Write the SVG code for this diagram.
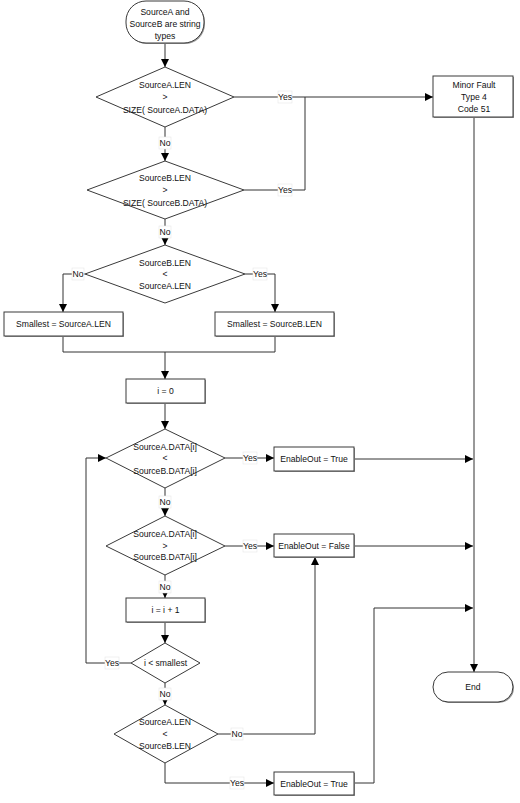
<svg xmlns="http://www.w3.org/2000/svg" width="520" height="803" viewBox="0 0 520 803">
<style>
.shape{fill:#ffffff;stroke:#3a3a3a;stroke-width:1}
.shadow{fill:#9a9a9a;stroke:none}
.t{font-family:"Liberation Sans",Arial,sans-serif;font-size:8.6px;fill:#111111;text-anchor:middle;dominant-baseline:central}
.c{fill:none;stroke:#333333;stroke-width:1}
.lb{fill:#ffffff;stroke:#e6e6e6;stroke-width:0.6}
</style>
<defs>
<marker id="ah" viewBox="0 0 10 10" refX="10" refY="5" markerWidth="8" markerHeight="8" markerUnits="userSpaceOnUse" orient="auto">
<path d="M0,0 L10,5 L0,10 Z" fill="#000000"/>
</marker>
</defs>
<rect width="520" height="803" fill="#ffffff"/>

<g id="connectors">
<path class="c" d="M165,43 V67" marker-end="url(#ah)"/>
<path class="c" d="M234,97 H433" marker-end="url(#ah)"/>
<path class="c" d="M165,127 V161" marker-end="url(#ah)"/>
<path class="c" d="M244,190 H305 V97"/>
<path class="c" d="M165,219 V245" marker-end="url(#ah)"/>
<path class="c" d="M85,274 H63 V312" marker-end="url(#ah)"/>
<path class="c" d="M245,274 H275 V312" marker-end="url(#ah)"/>
<path class="c" d="M63,336 V352 H275 V336"/>
<path class="c" d="M165,352 V379" marker-end="url(#ah)"/>
<path class="c" d="M165,403 V429" marker-end="url(#ah)"/>
<path class="c" d="M225,458 H274" marker-end="url(#ah)"/>
<path class="c" d="M165,488 V516" marker-end="url(#ah)"/>
<path class="c" d="M225,546 H274" marker-end="url(#ah)"/>
<path class="c" d="M165,575 V598" marker-end="url(#ah)"/>
<path class="c" d="M165,622 V643" marker-end="url(#ah)"/>
<path class="c" d="M131,663 H86 V458 H106" marker-end="url(#ah)"/>
<path class="c" d="M165,683 V705" marker-end="url(#ah)"/>
<path class="c" d="M218,734 H315 V557" marker-end="url(#ah)"/>
<path class="c" d="M165,763 V783 H274" marker-end="url(#ah)"/>
<path class="c" d="M354,459 H473" marker-end="url(#ah)"/>
<path class="c" d="M354,546 H473" marker-end="url(#ah)"/>
<path class="c" d="M354,783 H374 V608 H473" marker-end="url(#ah)"/>
<path class="c" d="M474,117 V672" marker-end="url(#ah)"/>
<g id="labels">
<rect class="lb" x="278" y="91" width="14" height="12"/><text class="t" x="285" y="97">Yes</text>
<rect class="lb" x="278" y="184" width="14" height="12"/><text class="t" x="285" y="190">Yes</text>
<rect class="lb" x="159" y="137" width="12" height="12"/><text class="t" x="165" y="143">No</text>
<rect class="lb" x="159" y="226" width="12" height="12"/><text class="t" x="165" y="232">No</text>
<rect class="lb" x="72" y="268" width="12" height="12"/><text class="t" x="78" y="274">No</text>
<rect class="lb" x="253" y="268" width="14" height="12"/><text class="t" x="260" y="274">Yes</text>
<rect class="lb" x="243" y="452" width="14" height="12"/><text class="t" x="250" y="458">Yes</text>
<rect class="lb" x="159" y="496" width="12" height="12"/><text class="t" x="165" y="502">No</text>
<rect class="lb" x="243" y="540" width="14" height="12"/><text class="t" x="250" y="546">Yes</text>
<rect class="lb" x="159" y="581" width="12" height="12"/><text class="t" x="165" y="587">No</text>
<rect class="lb" x="105" y="657" width="14" height="12"/><text class="t" x="112" y="663">Yes</text>
<rect class="lb" x="159" y="688" width="12" height="12"/><text class="t" x="165" y="694">No</text>
<rect class="lb" x="231" y="728" width="12" height="12"/><text class="t" x="237" y="734">No</text>
<rect class="lb" x="230" y="777" width="14" height="12"/><text class="t" x="237" y="783">Yes</text>
</g>
</g>

<g id="start">
<rect class="shadow" x="127" y="2" width="78" height="42" rx="20"/>
<rect class="shape" x="126" y="1" width="78" height="42" rx="20"/>
<text class="t" x="165" y="12">SourceA and</text>
<text class="t" x="165" y="24">SourceB are string</text>
<text class="t" x="165" y="36">types</text>
</g>

<g id="d1">
<polygon class="shape" points="165,67 234,97 165,127 96,97"/>
<text class="t" x="165" y="85">SourceA.LEN</text>
<text class="t" x="165" y="97">&gt;</text>
<text class="t" x="165" y="110">SIZE( SourceA.DATA)</text>
</g>

<g id="d2">
<polygon class="shape" points="165,161 244,190 165,219 87,190"/>
<text class="t" x="165" y="178">SourceB.LEN</text>
<text class="t" x="165" y="190">&gt;</text>
<text class="t" x="165" y="203">SIZE( SourceB.DATA)</text>
</g>

<g id="fault">
<rect class="shadow" x="434" y="77" width="80" height="41"/>
<rect class="shape" x="433" y="76" width="80" height="41"/>
<text class="t" x="474" y="85">Minor Fault</text>
<text class="t" x="474" y="97">Type 4</text>
<text class="t" x="474" y="109">Code 51</text>
</g>

<g id="d3">
<polygon class="shape" points="165,245 245,274 165,303 85,274"/>
<text class="t" x="165" y="263">SourceB.LEN</text>
<text class="t" x="165" y="274">&lt;</text>
<text class="t" x="165" y="286">SourceA.LEN</text>
</g>

<g id="smallA">
<rect class="shadow" x="5" y="313" width="119" height="24"/>
<rect class="shape" x="4" y="312" width="119" height="24"/>
<text class="t" x="63.5" y="324">Smallest = SourceA.LEN</text>
</g>

<g id="smallB">
<rect class="shadow" x="216" y="313" width="119" height="24"/>
<rect class="shape" x="215" y="312" width="119" height="24"/>
<text class="t" x="274.5" y="324">Smallest = SourceB.LEN</text>
</g>

<g id="i0">
<rect class="shadow" x="127" y="380" width="79" height="24"/>
<rect class="shape" x="126" y="379" width="79" height="24"/>
<text class="t" x="165.5" y="391">i = 0</text>
</g>

<g id="d4">
<polygon class="shape" points="165,429 225,458 165,488 106,458"/>
<text class="t" x="165" y="447">SourceA.DATA[i]</text>
<text class="t" x="165" y="458">&lt;</text>
<text class="t" x="165" y="471">SourceB.DATA[i]</text>
</g>

<g id="true1">
<rect class="shadow" x="275" y="448" width="80" height="24"/>
<rect class="shape" x="274" y="447" width="80" height="24"/>
<text class="t" x="314" y="459">EnableOut = True</text>
</g>

<g id="d5">
<polygon class="shape" points="165,516 225,546 165,575 106,546"/>
<text class="t" x="165" y="534">SourceA.DATA[i]</text>
<text class="t" x="165" y="546">&gt;</text>
<text class="t" x="165" y="557">SourceB.DATA[i]</text>
</g>

<g id="false1">
<rect class="shadow" x="275" y="535" width="80" height="23"/>
<rect class="shape" x="274" y="534" width="80" height="23"/>
<text class="t" x="314" y="546">EnableOut = False</text>
</g>

<g id="inc">
<rect class="shadow" x="127" y="599" width="79" height="24"/>
<rect class="shape" x="126" y="598" width="79" height="24"/>
<text class="t" x="165.5" y="610">i = i + 1</text>
</g>

<g id="d6">
<polygon class="shape" points="165,643 200,663 165,683 131,663"/>
<text class="t" x="165.5" y="663">i &lt; smallest</text>
</g>

<g id="d7">
<polygon class="shape" points="165,705 218,734 165,763 114,734"/>
<text class="t" x="165" y="722">SourceA.LEN</text>
<text class="t" x="165" y="734">&lt;</text>
<text class="t" x="165" y="746">SourceB.LEN</text>
</g>

<g id="true2">
<rect class="shadow" x="275" y="773" width="80" height="23"/>
<rect class="shape" x="274" y="772" width="80" height="23"/>
<text class="t" x="314" y="783.5">EnableOut = True</text>
</g>

<g id="end">
<rect class="shadow" x="434" y="673" width="80" height="30" rx="15"/>
<rect class="shape" x="433" y="672" width="80" height="30" rx="15"/>
<text class="t" x="473" y="687">End</text>
</g>
</svg>
